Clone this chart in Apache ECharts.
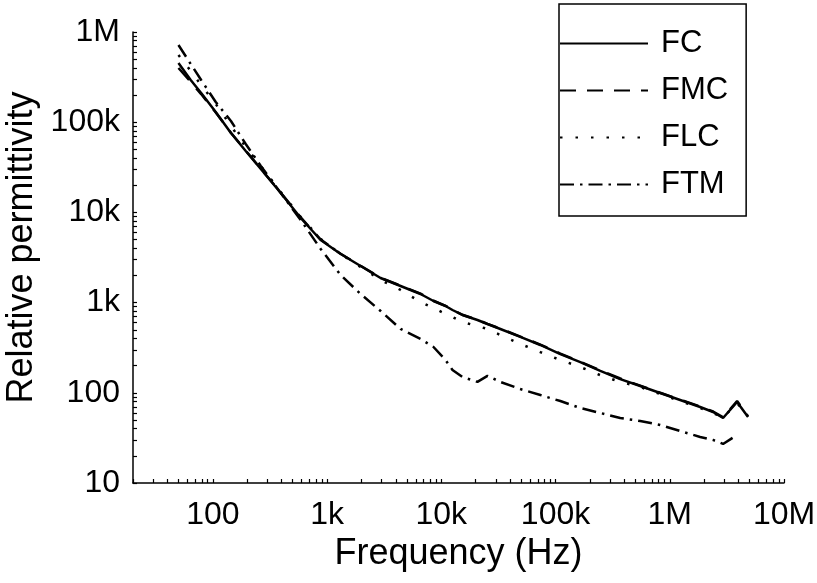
<!DOCTYPE html>
<html><head><meta charset="utf-8">
<script src="https://cdn.jsdelivr.net/npm/echarts@6/dist/echarts.min.js"></script>
<style>html,body{margin:0;padding:0;background:#fff}#c{width:817px;height:583px}</style>
</head><body><div id="c"></div>
<script>
// Frequency samples (Hz)
const freqHz = [50, 64, 79, 106, 144, 194, 263, 393, 588, 879, 1315, 1966, 2941, 4398, 6577, 8547, 10890, 12530, 15310, 20720, 25350, 32900, 49200, 73600, 110200, 164800, 246500, 368500, 551000, 824000, 1233000, 1845000, 2395000, 2928000, 3883000, 4844000];
// Relative permittivity per sample
const epsFC  = [453000, 293800, 210800, 129800, 75900, 47950, 30290, 16410, 8670, 4943, 3459, 2545, 1874, 1528, 1245, 1042, 917, 828, 729, 641, 579, 510, 416, 339, 269, 219, 175, 142, 119, 99.5, 83.2, 69.6, 61.2, 52.6, 79.1, 53.9];
const epsFMC = [399000, 280000, 205000, 128000, 76500, 48500, 30500, 16600, 8800, 5000, 3480, 2560, 1890, 1540, 1255, 1048, 922, 832, 733, 644, 582, 513, 420, 342, 272, 221, 177, 144, 120, 100, 84, 70.5, 62, 53.5, 81, 55];
const epsFLC = [556000, 369800, 258300, 159200, 90800, 53090, 32680, 16830, 8893, 5070, 3459, 2483, 1781, 1380, 1016, 871, 748, 692, 609, 550, 510, 437, 348, 283, 231, 193, 157, 132, 116, 97, 81, 67.8, 59.7, 53, 77.1, 55.3];
const epsFTM = [717600, 441800, 293800, 167500, 103100, 57300, 32700, 16410, 8240, 3930, 2023, 1245, 807, 510, 395, 322, 231, 179, 150, 132, 154, 132, 110, 94.5, 81, 67.8, 59.7, 52.6, 48.7, 44, 37.7, 32.4, 30, 27.1, 34.1];

const seriesNames = ['FC', 'FMC', 'FLC', 'FTM'];
const xLabelValues = [100, 1000, 10000, 100000, 1000000, 10000000];
const xLabelTexts  = ['100', '1k', '10k', '100k', '1M', '10M'];
const yLabelValues = [10, 100, 1000, 10000, 100000, 1000000];
const yLabelTexts  = ['10', '100', '1k', '10k', '100k', '1M'];

function logTicks(lo, hi) {
  const out = [];
  for (let d = 1; d <= 1e7; d *= 10) {
    for (let m = 1; m < 10; m++) {
      const v = m * d;
      if (v >= lo && v <= hi) out.push(v);
    }
  }
  return out;
}
function pairs(vals) { return vals.map((v, i) => [freqHz[i], v]); }
function labelFor(values, texts) {
  return function (v) {
    const e = Math.round(Math.log10(v));
    for (let i = 0; i < values.length; i++) {
      if (Math.round(Math.log10(values[i])) === e && Math.abs(Math.log10(v) - e) < 1e-6) return texts[i];
    }
    return '';
  };
}

const FONT = '"Liberation Sans", Arial, sans-serif';
const chart = echarts.init(document.getElementById('c'), null, { renderer: 'canvas' });
const styles = {
  FC:  { type: 'solid', width: 2.5 },
  FMC: { type: [16, 11], width: 2.5 },
  FLC: { type: [2.5, 13], width: 2.5 },
  FTM: { type: [14, 6, 2.5, 6], width: 2.5 }
};
const dataMap = { FC: epsFC, FMC: epsFMC, FLC: epsFLC, FTM: epsFTM };

chart.setOption({
  animation: false,
  backgroundColor: '#fff',
  grid: { left: 133, right: 33, top: 32, bottom: 100, containLabel: false, outerBoundsMode: 'none' },
  legend: {
    data: seriesNames,
    orient: 'vertical',
    left: 559,
    top: 4,
    padding: [24, 18, 16, 0],
    itemWidth: 88,
    itemHeight: 30,
    itemGap: 16,
    borderColor: '#000',
    borderWidth: 1.5,
    backgroundColor: '#fff',
    itemStyle: { opacity: 0 },
    textStyle: { fontFamily: FONT, fontSize: 31, color: '#000', padding: [0, 0, 0, 8], lineHeight: 30 }
  },
  xAxis: {
    type: 'log',
    min: 20,
    max: 10000000,
    name: 'Frequency (Hz)',
    nameLocation: 'middle',
    nameGap: 44,
    nameTextStyle: { fontFamily: FONT, fontSize: 36, color: '#000' },
    axisLine: { show: true, lineStyle: { color: '#000', width: 1.5 } },
    axisTick: { show: true, inside: true, length: 4, customValues: logTicks(20, 1e7), lineStyle: { color: '#000', width: 1.2 } },
    axisLabel: { customValues: xLabelValues, formatter: labelFor(xLabelValues, xLabelTexts), fontFamily: FONT, fontSize: 32, color: '#000', margin: 16 },
    splitLine: { show: false },
    minorTick: { show: false }
  },
  yAxis: {
    type: 'log',
    min: 10,
    max: 1000000,
    name: 'Relative permittivity',
    nameLocation: 'middle',
    nameGap: 87,
    nameTextStyle: { fontFamily: FONT, fontSize: 36, color: '#000', padding: [0, 0, 0, 20] },
    axisLine: { show: true, lineStyle: { color: '#000', width: 1.5 } },
    axisTick: { show: true, inside: true, length: 4, customValues: logTicks(10, 1e6), lineStyle: { color: '#000', width: 1.2 } },
    axisLabel: { customValues: yLabelValues, formatter: labelFor(yLabelValues, yLabelTexts), fontFamily: FONT, fontSize: 32, color: '#000', margin: 13 },
    splitLine: { show: false }
  },
  series: seriesNames.map(n => ({
    name: n,
    type: 'line',
    symbol: 'none',
    showSymbol: false,
    data: pairs(dataMap[n]),
    lineStyle: { color: '#000', width: styles[n].width, type: styles[n].type },
    itemStyle: { color: '#000' },
    emphasis: { disabled: true }
  }))
});
</script>
</body></html>
